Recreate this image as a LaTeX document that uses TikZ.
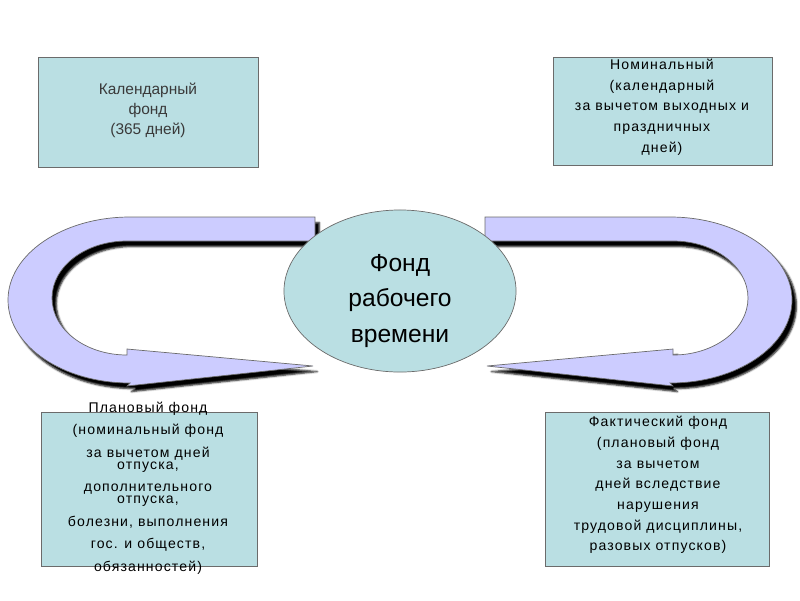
\documentclass[tikz,border=0pt]{standalone}
\usepackage{fontspec}
\setmainfont{Liberation Sans}
\usetikzlibrary{shapes.geometric, shadows.blur}
\definecolor{cteal}{HTML}{BADFE3}
\definecolor{clav}{HTML}{CCCCFF}
\definecolor{cedge}{HTML}{6B6B6B}
\definecolor{ctext}{HTML}{3A3A3A}
\tikzset{
  every picture/.style={x=0.025cm, y=-0.025cm},
  fundbox/.style 2 args={draw=cedge, fill=cteal, line width=0.6pt, minimum width=#1, minimum height=#2, inner sep=0pt},
  fundtext/.style={align=center, inner sep=0pt, font=\fontsize{10}{14.7}\selectfont\addfontfeature{LetterSpace=8}},
  uturn/.style={draw=cedge, fill=clav, line width=0.5pt, blur shadow={shadow xshift=1.1mm, shadow yshift=-1.4mm, shadow blur radius=0.45mm, shadow opacity=100}},
  core/.style={ellipse, draw=cedge, fill=cteal, line width=0.5pt, minimum width=5.8cm, minimum height=4.05cm},
  coretext/.style={align=center, inner sep=0pt, font=\fontsize{17.5}{25.5}\selectfont},
}

\begin{document}
\begin{tikzpicture}
  \useasboundingbox (0,0) rectangle (800,600);
  \path[uturn] (315,217) -- (130,217) arc[start angle=270, end angle=90, x radius=122, y radius=83]
    -- (127,386) -- (313,366) -- (127,349) -- (127,355)
    arc[start angle=90, end angle=270, x radius=75, y radius=57] -- (315,241) -- cycle;
  \begin{scope}[shift={(800,0)}, xscale=-1]
    \path[uturn] (315,217) -- (130,217) arc[start angle=270, end angle=90, x radius=122, y radius=83]
      -- (127,386) -- (313,366) -- (127,349) -- (127,355)
      arc[start angle=90, end angle=270, x radius=75, y radius=57] -- (315,241) -- cycle;
  \end{scope}
  \node[core] (fund) at (400,291) {};
  \node[coretext] (fundlbl) at (400,301) {Фонд\\рабочего\\времени};
  \node[fundbox={5.5cm}{2.75cm}] (cal) at (148,112) {};
  \node[fundtext, text=ctext, font=\fontsize{11}{14.2}\selectfont] (caltext) at (148,110) {Календарный\\фонд\\(365 дней)};
  \node[fundbox={5.475cm}{2.7cm}] (nom) at (662.5,111) {};
  \node[fundtext] (nomtext) at (662,107) {Номинальный\\(календарный\\за вычетом выходных и\\праздничных\\дней)};
  \node[fundbox={5.4cm}{3.85cm}] (plan) at (149,489) {};
  \node[fundtext, font=\fontsize{10}{16}\selectfont\addfontfeature{LetterSpace=8}] (plantext) at (148,488)
    {Плановый фонд\\(номинальный фонд\\за вычетом дней\\[-7.5pt]отпуска,\\дополнительного\\[-7.5pt]отпуска,\\болезни, выполнения\\гос. и обществ,\\обязанностей)};
  \node[fundbox={5.6cm}{3.85cm}] (fact) at (657,489) {};
  \node[fundtext] (facttext) at (658,485) {Фактический фонд\\(плановый фонд\\за вычетом\\дней вследствие\\нарушения\\трудовой дисциплины,\\разовых отпусков)};
\end{tikzpicture}
\end{document}
